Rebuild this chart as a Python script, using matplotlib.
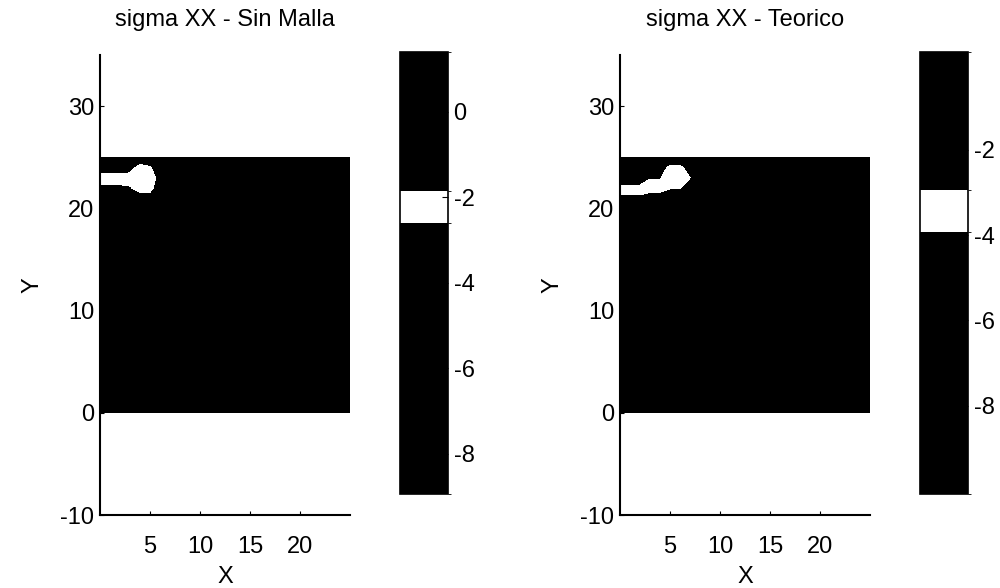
import numpy as np
import matplotlib
matplotlib.use('Agg')
import matplotlib.pyplot as plt
from matplotlib.colors import ListedColormap, BoundaryNorm
from matplotlib.cm import ScalarMappable

plt.rcParams['font.family'] = ['Liberation Sans', 'DejaVu Sans']
plt.rcParams['axes.unicode_minus'] = False

# nodos de la malla (placa 25 x 25)
x_nodes = [0, 1, 2, 3, 4, 5, 6, 7, 25]
y_nodes = [0, 20, 21, 22, 23, 24, 25]
x_nodes_t = [0, 1, 2, 3, 4, 5, 6, 7, 8, 25]

# sigma XX - Sin Malla (filas = y_nodes, columnas = x_nodes)
sxx_sin_malla = [
    [-6.0, -6.0, -6.0, -6.0, -6.0, -6.0, -6.0, -6.0, -6.0],
    [-6.0, -6.0, -6.0, -6.0, -6.0, -6.0, -6.0, -6.0, -6.0],
    [-6.0, -6.0, -6.0, -5.0, -3.2, -3.2, -5.0, -6.0, -6.0],
    [-2.8, -2.8, -2.8, -2.7, -2.2, -2.2, -3.5, -6.0, -6.0],
    [-2.2, -2.2, -2.2, -2.2, -2.2, -2.2, -2.9, -6.0, -6.0],
    [-3.2, -3.2, -3.2, -3.0, -2.2, -2.4, -4.0, -6.0, -6.0],
    [-6.0, -6.0, -6.0, -5.0, -3.5, -4.0, -6.0, -6.0, -6.0],
]

# sigma XX - Teorico (filas = y_nodes, columnas = x_nodes_t)
sxx_teorico = [
    [-6.0, -6.0, -6.0, -6.0, -6.0, -6.0, -6.0, -6.0, -6.0, -6.0],
    [-6.0, -6.0, -6.0, -6.0, -6.0, -6.0, -6.0, -6.0, -6.0, -6.0],
    [-4.2, -4.2, -4.2, -4.7, -4.7, -6.0, -6.0, -6.0, -6.0, -6.0],
    [-3.4, -3.4, -3.4, -3.4, -3.4, -3.8, -3.8, -6.0, -6.0, -6.0],
    [-5.2, -5.2, -5.2, -4.0, -4.0, -3.4, -3.4, -3.9, -6.0, -6.0],
    [-6.0, -6.0, -6.0, -6.0, -5.0, -3.4, -3.4, -5.0, -6.0, -6.0],
    [-6.0, -6.0, -6.0, -6.0, -6.0, -6.0, -6.0, -6.0, -6.0, -6.0],
]

# rango de la barra de color y banda clara (impresion en gris)
cb_lims = [(-8.94, 1.41), (-10.07, 0.3)]
cb_band = [(-2.6, -1.84), (-3.93, -2.94)]
cb_ticks = [[-8, -6, -4, -2, 0], [-8, -6, -4, -2]]
titles = ['sigma XX - Sin Malla', 'sigma XX - Teorico']

fig = plt.figure(figsize=(10, 5.88), dpi=100)
fs = 17

datos = [(x_nodes, sxx_sin_malla), (x_nodes_t, sxx_teorico)]
ax_left = [0.10, 0.62]
cb_left = [0.40, 0.92]

for i in range(2):
    xs, Z = datos[i]
    vmin, vmax = cb_lims[i]
    lo, hi = cb_band[i]
    bounds = [vmin, lo, hi, vmax]
    cmap = ListedColormap(['black', 'white', 'black'])
    norm = BoundaryNorm(bounds, cmap.N)

    ax = fig.add_axes([ax_left[i], 0.124, 0.25, 0.782])
    X, Y = np.meshgrid(xs, y_nodes)
    ax.contourf(X, Y, np.array(Z), levels=bounds, cmap=cmap, norm=norm)
    ax.set_xlim(0, 25)
    ax.set_ylim(-10, 35)
    ax.set_xticks([5, 10, 15, 20])
    ax.set_yticks([-10, 0, 10, 20, 30])
    ax.spines['top'].set_visible(False)
    ax.spines['right'].set_visible(False)
    ax.spines['left'].set_linewidth(1.5)
    ax.spines['bottom'].set_linewidth(1.5)
    ax.tick_params(direction='in', length=3, labelsize=fs)
    ax.tick_params(axis='x', pad=15)
    ax.tick_params(axis='y', pad=4)
    ax.set_xlabel('X', fontsize=fs, labelpad=6)
    ax.set_ylabel('Y', fontsize=fs, labelpad=12)
    ax.set_title(titles[i], fontsize=fs, pad=21)

    cax = fig.add_axes([cb_left[i], 0.16, 0.048, 0.752])
    sm = ScalarMappable(norm=norm, cmap=cmap)
    cb = fig.colorbar(sm, cax=cax, spacing='proportional', ticks=cb_ticks[i])
    cb.outline.set_linewidth(1.2)
    cax.tick_params(direction='in', length=4, labelsize=fs, pad=4)

fig.savefig('out.png', dpi=100)
